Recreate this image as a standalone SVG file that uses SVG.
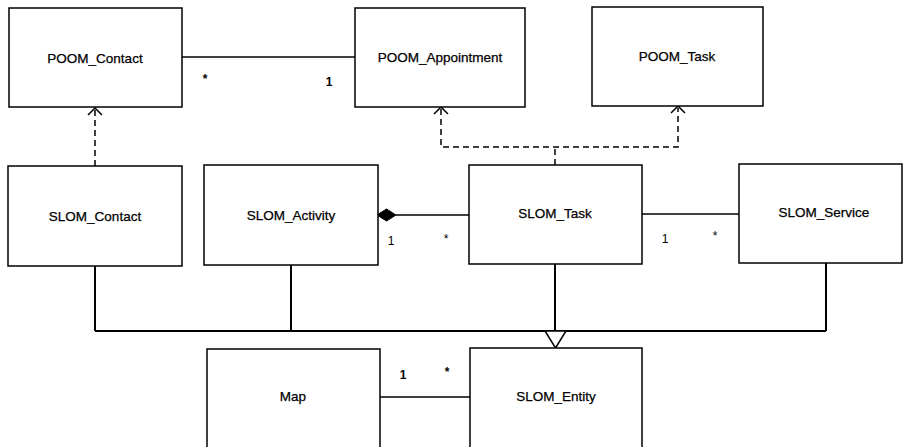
<svg xmlns="http://www.w3.org/2000/svg" width="904" height="447" viewBox="0 0 904 447">
<defs>
<style>
.box{fill:#fff;stroke:#000;stroke-width:1.5}
.lbl{font-family:"Liberation Sans",Arial,sans-serif;font-size:13.5px;fill:#000;text-anchor:middle;stroke:#000;stroke-width:0.25}
.m{font-family:"Liberation Sans",Arial,sans-serif;font-size:12px;fill:#000;text-anchor:middle}
.b{font-weight:bold}
.assoc{fill:none;stroke:#000;stroke-width:1.3}
.dash{fill:none;stroke:#000;stroke-width:1.5;stroke-dasharray:6,4}
.gen{fill:none;stroke:#000;stroke-width:2}
.open{fill:none;stroke:#000;stroke-width:1.5}
</style>
</defs>
<rect width="904" height="447" fill="#fff"/>
<g id="connectors">
<line class="assoc" x1="182" y1="57" x2="355" y2="57"/>
<text class="m b" x="205" y="83">*</text>
<text class="m b" x="329" y="86">1</text>
<line class="dash" x1="95" y1="166" x2="95" y2="109"/>
<polyline class="open" points="88,115 95,108 102,115"/>
<polyline class="dash" points="555,165 555,147"/>
<polyline class="dash" points="441,109 441,147 678,147 678,108"/>
<polyline class="open" points="434,114 441,107 448,114"/>
<polyline class="open" points="671,113 678,106 685,113"/>
<line class="assoc" x1="396" y1="215" x2="469" y2="215"/>
<polygon points="377,215 386.5,209 396,215 386.5,221" fill="#000" stroke="#000" stroke-width="1"/>
<text class="m" x="391" y="245">1</text>
<text class="m" x="446" y="243">*</text>
<line class="assoc" x1="642" y1="214" x2="739" y2="214"/>
<text class="m" x="665" y="243">1</text>
<text class="m" x="715" y="240">*</text>
<line class="gen" x1="95" y1="266" x2="95" y2="331"/>
<line class="gen" x1="291" y1="265" x2="291" y2="331"/>
<line class="gen" x1="555" y1="264" x2="555" y2="331"/>
<line class="gen" x1="826" y1="263" x2="826" y2="331"/>
<line class="gen" x1="95" y1="331" x2="826" y2="331"/>
<polygon points="545,331 566,331 555.5,348" fill="#fff" stroke="#000" stroke-width="1.5"/>
<line class="assoc" x1="380" y1="397" x2="470" y2="397"/>
<text class="m b" x="403" y="379">1</text>
<text class="m b" x="447" y="376">*</text>
</g>
<g id="POOM_Contact"><rect class="box" x="9" y="8" width="173" height="99"/><text class="lbl" x="95" y="63">POOM_Contact</text></g>
<g id="POOM_Appointment"><rect class="box" x="355" y="8" width="170" height="99"/><text class="lbl" x="440" y="62">POOM_Appointment</text></g>
<g id="POOM_Task"><rect class="box" x="592" y="7" width="171" height="99"/><text class="lbl" x="677" y="61">POOM_Task</text></g>
<g id="SLOM_Contact"><rect class="box" x="8" y="166" width="174" height="100"/><text class="lbl" x="95" y="221">SLOM_Contact</text></g>
<g id="SLOM_Activity"><rect class="box" x="204" y="165" width="174" height="100"/><text class="lbl" x="291" y="220">SLOM_Activity</text></g>
<g id="SLOM_Task"><rect class="box" x="469" y="165" width="173" height="99"/><text class="lbl" x="555" y="218">SLOM_Task</text></g>
<g id="SLOM_Service"><rect class="box" x="739" y="164" width="163" height="99"/><text class="lbl" x="824" y="217">SLOM_Service</text></g>
<g id="Map"><rect class="box" x="207" y="349" width="173" height="110"/><text class="lbl" x="293" y="401">Map</text></g>
<g id="SLOM_Entity"><rect class="box" x="470" y="348" width="172" height="110"/><text class="lbl" x="556" y="401">SLOM_Entity</text></g>
</svg>
